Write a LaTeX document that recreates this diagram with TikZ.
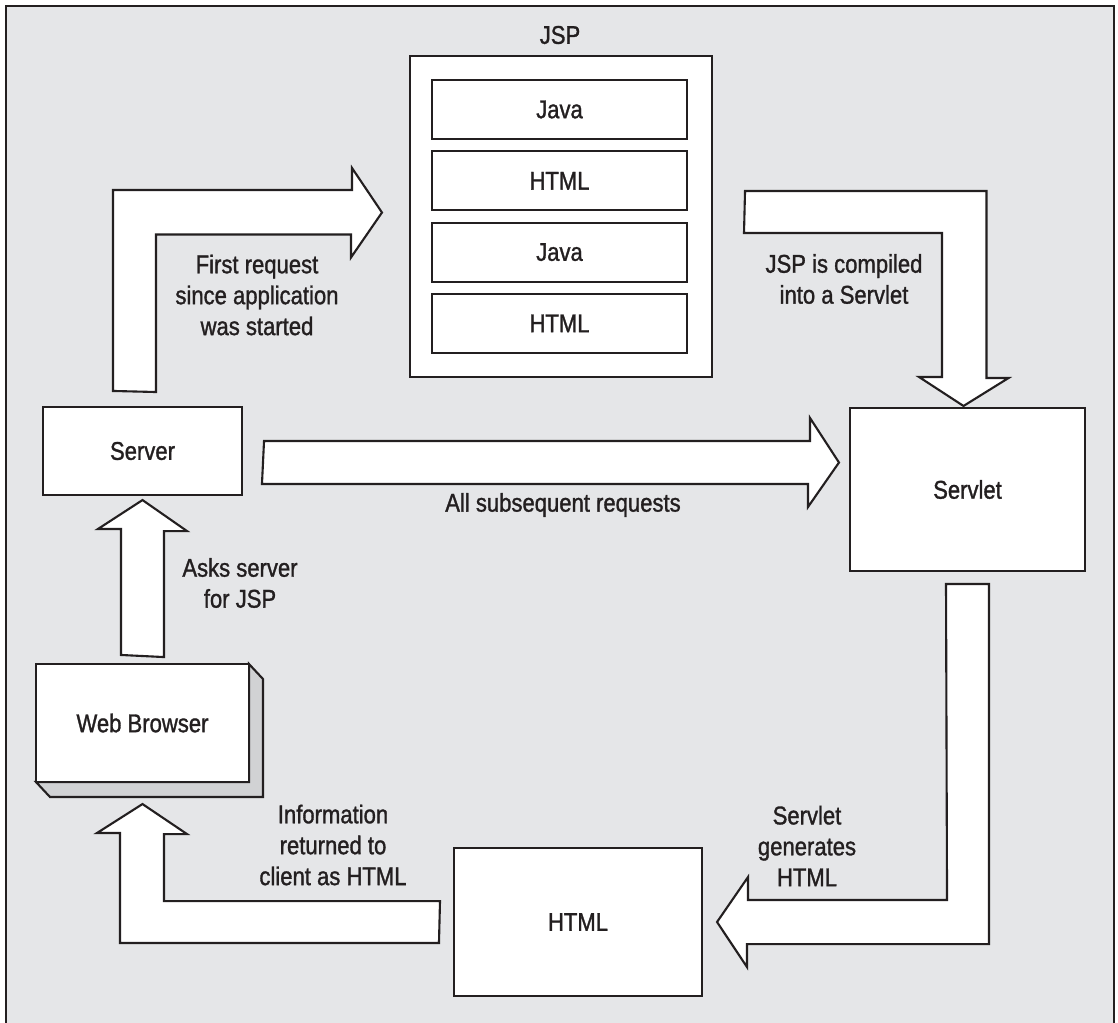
\documentclass[tikz,border=0pt]{standalone}
\usepackage{fontspec}
\setmainfont{Liberation Sans}[FakeStretch=0.86, FakeBold=1.2]
\usepackage{tikz}
\usetikzlibrary{positioning, calc}
\definecolor{bggray}{RGB}{229,230,232}
\definecolor{shadowgray}{RGB}{209,210,212}
\definecolor{ink}{RGB}{35,31,32}

\begin{document}
\begin{tikzpicture}[x=0.02cm, y=-0.02cm, line width=1.2pt, draw=ink, text=ink,
	font=\fontsize{14.6}{17.6}\selectfont]
	\tikzstyle{box}=[rectangle, draw=ink, fill=white, inner sep=0pt]
	\tikzstyle{part}=[box, minimum width=5.1cm, minimum height=1.18cm]
	\tikzstyle{note}=[align=center, inner sep=0pt]
	\tikzstyle{fatarrow}=[draw=ink, fill=white, line join=miter]

	\useasboundingbox (0,0) rectangle (1118,1022);
	\draw[fill=bggray] (6,6) rectangle (1114,1040);

	% jsp page and its parts
	\node[box, minimum width=6.04cm, minimum height=6.42cm] (jspbox) at (561,216.5) {};
	\node[note] (jsplabel) at (560,35) {JSP};
	\foreach \i/\t in {0/Java,1/HTML,2/Java,3/HTML}{
		\node[part] (part\i) at (559.5, 109.5 + 71.3 * \i) {\t};
	}

	\node[box, minimum width=3.98cm, minimum height=1.76cm] (server) at (142.5,451) {Server};
	\node[box, minimum width=4.7cm, minimum height=3.26cm] (servlet) at (967.5,489.5) {Servlet};
	\node[box, minimum width=4.96cm, minimum height=2.96cm] (html) at (578,922) {HTML};

	% browser with its shadow
	\draw[fill=shadowgray] (142.5,723) ++(106.5,-59) -- ++(14,15) -- ++(0,118) -- ++(-213,0) -- ++(-14,-15) -- ++(213,0) -- cycle;
	\node[box, minimum width=4.26cm, minimum height=2.36cm] (browser) at (142.5,723) {Web Browser};

	% block arrows
	\draw[fatarrow] ($(browser.north)+(-21.5,-8)$) -- ++(0,-126) -- ++(-23,0) -- ($(server.south)+(0,4)$) -- ++(44.5,31) -- ++(-23,0) -- ++(0,126) -- cycle;
	\draw[fatarrow] ($(server.north)+(-29.5,-15)$) -- ++(0,-201) -- ++(239,0) -- ++(0,-22) -- ($(jspbox.west)+(-27,-4)$) -- ++(-31,45) -- ++(0,-23) -- ++(-195,0) -- ++(0,157.5) -- cycle;
	\draw[fatarrow] ($(jspbox.east)+(32,-25.5)$) -- ++(241.5,0) -- ++(0,187) -- ++(22,0) -- ($(servlet.north)+(-4,-1)$) -- ++(-44.5,-29) -- ++(23,0) -- ++(0,-144) -- ++(-198,0) -- cycle;
	\draw[fatarrow] ($(server.east)+(21,-10)$) -- ++(546,0) -- ++(0,-23) -- ($(servlet.west)+(-10,-27)$) -- ++(-31,44.5) -- ++(0,-23) -- ++(-546,0) -- cycle;
	\draw[fatarrow] ($(servlet.south)+(-21.5,12)$) -- ++(43,0) -- ++(0,360) -- ++(-242,0) -- ++(0,23) -- ($(html.east)+(14,0)$) -- ++(31,-45) -- ++(0,23) -- ++(199,0) -- cycle;
	\draw[fatarrow] ($(html.west)+(-14,21)$) -- ++(-319,0) -- ++(0,-110) -- ++(-23,0) -- ($(browser.south)+(0,21)$) -- ++(44.5,30) -- ++(-23,0) -- ++(0,67) -- ++(276,0) -- cycle;

	% labels
	\node[note] (firstreq) at (257,295) {First request\\since application\\was started};
	\node[note] (compiled) at (844,279) {JSP is compiled\\into a Servlet};
	\node[note] (subseq) at (563,505) {All subsequent requests};
	\node[note] (asks) at (240,583) {Asks server\\for JSP};
	\node[note] (returned) at (333,845) {Information\\returned to\\client as HTML};
	\node[note] (generates) at (807,846) {Servlet\\generates\\HTML};
\end{tikzpicture}
\end{document}
